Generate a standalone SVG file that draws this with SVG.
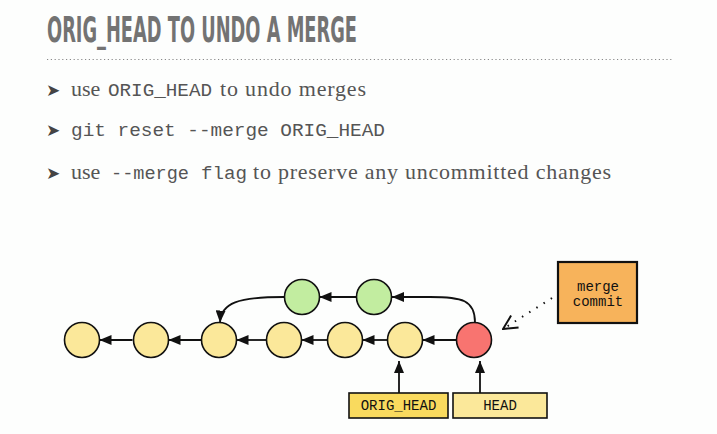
<svg xmlns="http://www.w3.org/2000/svg" width="717" height="434" viewBox="0 0 717 434">
<style>
.title{font-family:"Liberation Sans Narrow","DejaVu Sans Condensed","Liberation Sans",sans-serif;font-weight:bold;font-size:35px;fill:#737373}
.prose{font-family:"Liberation Serif",serif;font-size:22px;fill:#555}
.code{font-family:"Liberation Mono","DejaVu Sans Mono",monospace;font-size:19px;fill:#555}
.bul{font-family:"DejaVu Sans",sans-serif;font-size:17px;fill:#444}
.node{stroke:#111;stroke-width:1.6}
.y{fill:#FBE89A}.g{fill:#C2EDA0}.r{fill:#F87470}
.edge{fill:none;stroke:#111;stroke-width:1.8}
.lbl{font-family:"Liberation Mono","DejaVu Sans Mono",monospace;font-size:14px;fill:#111;text-anchor:middle}
</style>
<defs>
<marker id="ah" viewBox="0 0 12 10" refX="12" refY="5" markerWidth="12" markerHeight="10" markerUnits="userSpaceOnUse" orient="auto">
<path d="M0,0 L12,5 L0,10 Z" fill="#111"/>
</marker>
<marker id="open" viewBox="0 0 16 16" refX="15" refY="8" markerWidth="16" markerHeight="16" markerUnits="userSpaceOnUse" orient="auto">
<path d="M1,1 L15,8 L1,15" fill="none" stroke="#111" stroke-width="2"/>
</marker>
</defs>
<rect width="717" height="434" fill="#FDFEFD"/>
<text class="title" x="47" y="42" textLength="310" lengthAdjust="spacingAndGlyphs">ORIG_HEAD TO UNDO A MERGE</text>
<line x1="47" y1="59.5" x2="674" y2="59.5" stroke="#888" stroke-width="1" stroke-dasharray="1.2,2.6"/>

<text class="bul" x="46" y="96">➤</text>
<text class="prose" x="71" y="96">use</text>
<text class="code" x="108" y="96" textLength="104" lengthAdjust="spacingAndGlyphs">ORIG_HEAD</text>
<text class="prose" x="220" y="96" textLength="146">to undo merges</text>

<text class="bul" x="46" y="136">➤</text>
<text class="code" x="71" y="136" textLength="314" lengthAdjust="spacingAndGlyphs">git reset --merge ORIG_HEAD</text>

<text class="bul" x="46" y="179">➤</text>
<text class="prose" x="71" y="179">use</text>
<text class="code" x="111" y="179" textLength="78" lengthAdjust="spacingAndGlyphs">--merge</text>
<text class="code" x="201" y="179" textLength="46" lengthAdjust="spacingAndGlyphs">flag</text>
<text class="prose" x="253" y="179" textLength="358">to preserve any uncommitted changes</text>

<g id="connectors">
<line class="edge" x1="132.5" y1="340" x2="99.5" y2="340" marker-end="url(#ah)"/>
<line class="edge" x1="201.5" y1="340" x2="168.5" y2="340" marker-end="url(#ah)"/>
<line class="edge" x1="266.5" y1="340" x2="236.5" y2="340" marker-end="url(#ah)"/>
<line class="edge" x1="327.5" y1="340" x2="301.5" y2="340" marker-end="url(#ah)"/>
<line class="edge" x1="387.5" y1="340" x2="362.5" y2="340" marker-end="url(#ah)"/>
<line class="edge" x1="456.5" y1="340" x2="422.5" y2="340" marker-end="url(#ah)"/>
<line class="edge" x1="356.5" y1="297" x2="319.5" y2="297" marker-end="url(#ah)"/>
<path class="edge" d="M475,322.5 C475,300 462,297 430,297 L392,297" marker-end="url(#ah)"/>
<path class="edge" d="M284,297 C238,297 221,303 220,322.5" marker-end="url(#ah)"/>
<line class="edge" x1="399" y1="393" x2="399" y2="361" marker-end="url(#ah)"/>
<line class="edge" x1="480" y1="393" x2="480" y2="361" marker-end="url(#ah)"/>
<line x1="552" y1="298" x2="503" y2="329" stroke="#111" stroke-width="2" stroke-dasharray="1.5,7" marker-end="url(#open)"/>
</g>

<g id="n1"><circle class="node y" cx="82" cy="340" r="17.5"/></g>
<g id="n2"><circle class="node y" cx="151" cy="340" r="17.5"/></g>
<g id="n3"><circle class="node y" cx="219" cy="340" r="17.5"/></g>
<g id="n4"><circle class="node y" cx="284" cy="340" r="17.5"/></g>
<g id="n5"><circle class="node y" cx="345" cy="340" r="17.5"/></g>
<g id="n6"><circle class="node y" cx="405" cy="340" r="17.5"/></g>
<g id="head-commit"><circle class="node r" cx="474" cy="340" r="17.5"/></g>
<g id="g1"><circle class="node g" cx="302" cy="297" r="17.5"/></g>
<g id="g2"><circle class="node g" cx="374" cy="297" r="17.5"/></g>

<g id="merge-commit">
<rect x="558" y="262" width="79" height="61" fill="#F7B35B" stroke="#111" stroke-width="2.2"/>
<text class="lbl" x="598" y="291" font-size="15.5">merge</text>
<text class="lbl" x="598" y="306" font-size="15.5">commit</text>
</g>
<g id="orig-head">
<rect x="349" y="393" width="99" height="25" fill="#F9DA5E" stroke="#111" stroke-width="1.6"/>
<text class="lbl" x="398.5" y="410">ORIG_HEAD</text>
</g>
<g id="head">
<rect x="453" y="393" width="94" height="25" fill="#FBE89A" stroke="#111" stroke-width="1.6"/>
<text class="lbl" x="500" y="410">HEAD</text>
</g>
</svg>
